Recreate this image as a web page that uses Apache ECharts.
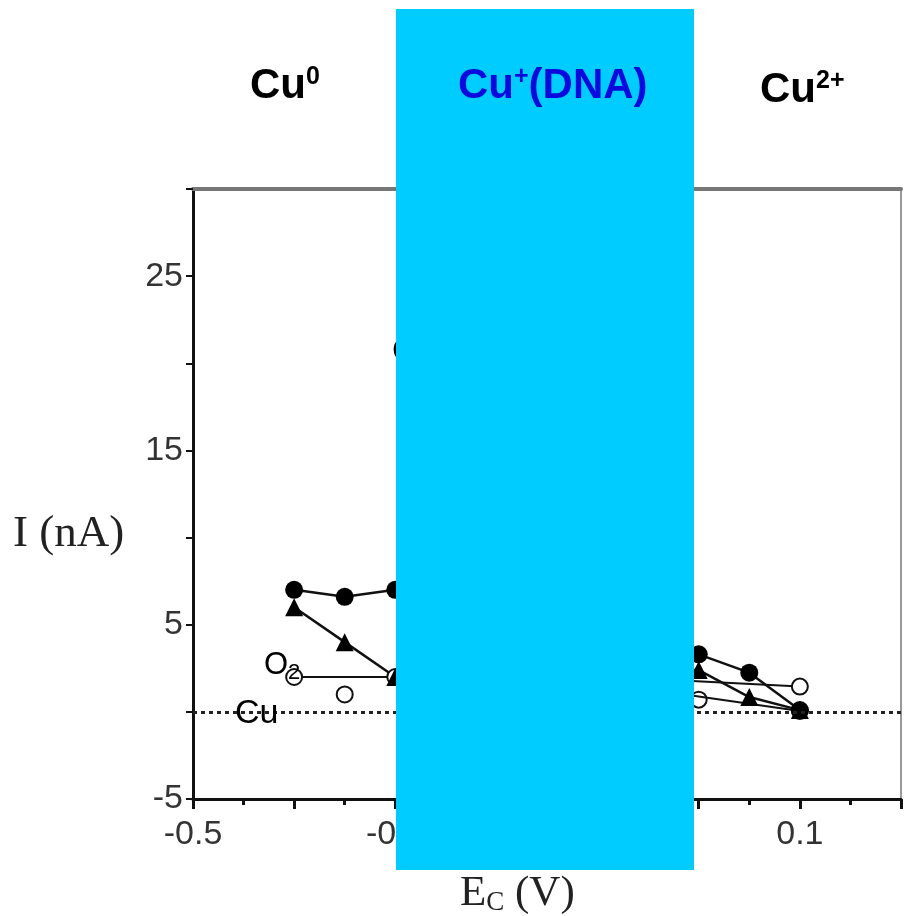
<!DOCTYPE html>
<html>
<head>
<meta charset="utf-8">
<script src="https://cdn.jsdelivr.net/npm/echarts@6/dist/echarts.min.js"></script>
<style>
html,body{margin:0;padding:0;background:#fff;}
#main{width:904px;height:916px;}
</style>
</head>
<body>
<div id="main"></div>
<script>
// ---- data ----
const xTickLabels = ['-0.5', '-0.3', '-0.1', '0.1'];
const yTickLabels = ['-5', '5', '15', '25'];

const filledX = [-0.4, -0.35, -0.3, 0, 0.05, 0.1];
const filledY = [7.0, 6.6, 7.0, 3.3, 2.25, 0.1];

const triX = [-0.4, -0.35, -0.3, 0, 0.05, 0.1];
const triY = [6.0, 4.0, 2.0, 2.4, 0.85, 0.1];

const o2X = [-0.4, -0.3, -0.05, 0.1];
const o2Y = [2.0, 2.0, 1.9, 1.45];

const cuX = [-0.35, 0, 0.1];
const cuY = [1.0, 0.7, 0.05];

const cuLineX = [-0.05, 0.1];
const cuLineY = [1.3, 0.05];

const zip = (xs, ys) => xs.map((x, i) => [x, ys[i]]);

const chart = echarts.init(document.getElementById('main'));
const sans = 'Liberation Sans, Arial, Helvetica, sans-serif';
const serif = 'Liberation Serif, Times New Roman, serif';

const option = {
  animation: false,
  backgroundColor: '#fff',
  grid: { left: 193, right: 3, top: 189, bottom: 117, containLabel: false },
  xAxis: [{
    type: 'value', min: -0.5, max: 0.2, interval: 0.1,
    axisLine: { show: true, onZero: false, lineStyle: { color: '#111', width: 3 } },
    axisTick: { show: true, length: 10, lineStyle: { color: '#111', width: 3 } },
    minorTick: { show: true, splitNumber: 2, length: 6, lineStyle: { color: '#111', width: 3 } },
    splitLine: { show: false },
    axisLabel: {
      color: '#333', fontSize: 34, fontFamily: sans, margin: 19,
      formatter: v => { const s = String(Math.round(v * 10) / 10); return xTickLabels.includes(s) ? s : ''; }
    }
  }, {
    type: 'value', min: -0.5, max: 0.2, position: 'top',
    axisLine: { show: true, onZero: false, lineStyle: { color: '#777', width: 4 } },
    axisTick: { show: false }, axisLabel: { show: false }, splitLine: { show: false }
  }],
  yAxis: [{
    type: 'value', min: -5, max: 30, interval: 5,
    axisLine: { show: true, onZero: false, lineStyle: { color: '#111', width: 3 } },
    axisTick: { show: true, length: 7, lineStyle: { color: '#111', width: 2 } },
    splitLine: { show: false },
    axisLabel: {
      color: '#333', fontSize: 34, fontFamily: sans, margin: 10, padding: [6, 0, 0, 0],
      formatter: v => { const s = String(Math.round(v)); return yTickLabels.includes(s) ? s : ''; }
    }
  }, {
    type: 'value', min: -5, max: 30, position: 'right',
    axisLine: { show: true, onZero: false, lineStyle: { color: '#999', width: 2 } },
    axisTick: { show: false }, axisLabel: { show: false }, splitLine: { show: false }
  }],
  series: [
    {
      type: 'line', data: zip(o2X, o2Y), symbol: 'circle', symbolSize: 16,
      itemStyle: { color: '#fff', borderColor: '#111', borderWidth: 2 },
      lineStyle: { color: '#111', width: 2 },
      markLine: {
        silent: true, symbol: 'none', label: { show: false },
        lineStyle: { color: '#222', type: [4, 4], width: 3 },
        data: [{ yAxis: 0 }]
      }
    },
    {
      type: 'line', data: zip(cuLineX, cuLineY), symbol: 'none',
      lineStyle: { color: '#111', width: 2 }
    },
    {
      type: 'scatter', data: zip(cuX, cuY), symbol: 'circle', symbolSize: 16,
      itemStyle: { color: '#fff', borderColor: '#111', borderWidth: 2, opacity: 1 }
    },
    {
      type: 'line', data: zip(triX, triY), symbol: 'triangle', symbolSize: 18,
      itemStyle: { color: '#000' }, lineStyle: { color: '#111', width: 2.5 }
    },
    {
      type: 'line', data: zip(filledX, filledY), symbol: 'circle', symbolSize: 18,
      itemStyle: { color: '#000' }, lineStyle: { color: '#111', width: 2.5 }
    }
  ],
  graphic: [
    { type: 'text', left: 13, top: 512, z: 10,
      style: { text: 'I (nA)', font: '45px ' + serif, fill: '#222' } },
    { type: 'text', left: 460, top: 872, z: 10,
      style: { text: '{m|E}{s|C}{m| (V)}', fill: '#222',
        rich: { m: { font: '43px ' + serif, fill: '#222' }, s: { font: '27px ' + serif, fill: '#222', padding: [18, 0, 0, 0] } } } },
    { type: 'text', left: 264, top: 650, z: 10,
      style: { text: '{m|O}{s|2}', rich: { m: { font: '31px ' + sans, fill: '#000' }, s: { font: '22px ' + sans, fill: '#000', padding: [14, 0, 0, 0] } } } },
    { type: 'text', left: 235, top: 697, z: 10,
      style: { text: 'Cu', font: '34px ' + sans, fill: '#000' } },
    { type: 'text', left: 392, top: 335, z: 10,
      style: { text: 'Cu', font: '33px ' + sans, fill: '#000' } },
    { type: 'rect', z: 100, shape: { x: 396, y: 9, width: 298, height: 861 },
      style: { fill: '#00CCFF' } },
    { type: 'text', left: 250, top: 65, z: 110,
      style: { text: '{m|Cu}{s|0}', rich: { m: { font: 'bold 42px ' + sans, fill: '#000' }, s: { font: 'bold 25px ' + sans, fill: '#000', padding: [0, 0, 18, 0] } } } },
    { type: 'text', left: 458, top: 65, z: 110,
      style: { text: '{m|Cu}{s|+}{m|(DNA)}', rich: { m: { font: 'bold 42px ' + sans, fill: '#0a0ade' }, s: { font: 'bold 25px ' + sans, fill: '#0a0ade', padding: [0, 0, 18, 0] } } } },
    { type: 'text', left: 760, top: 69, z: 110,
      style: { text: '{m|Cu}{s|2+}', rich: { m: { font: 'bold 42px ' + sans, fill: '#000' }, s: { font: 'bold 25px ' + sans, fill: '#000', padding: [0, 0, 18, 0] } } } }
  ]
};
chart.setOption(option);
</script>
</body>
</html>
